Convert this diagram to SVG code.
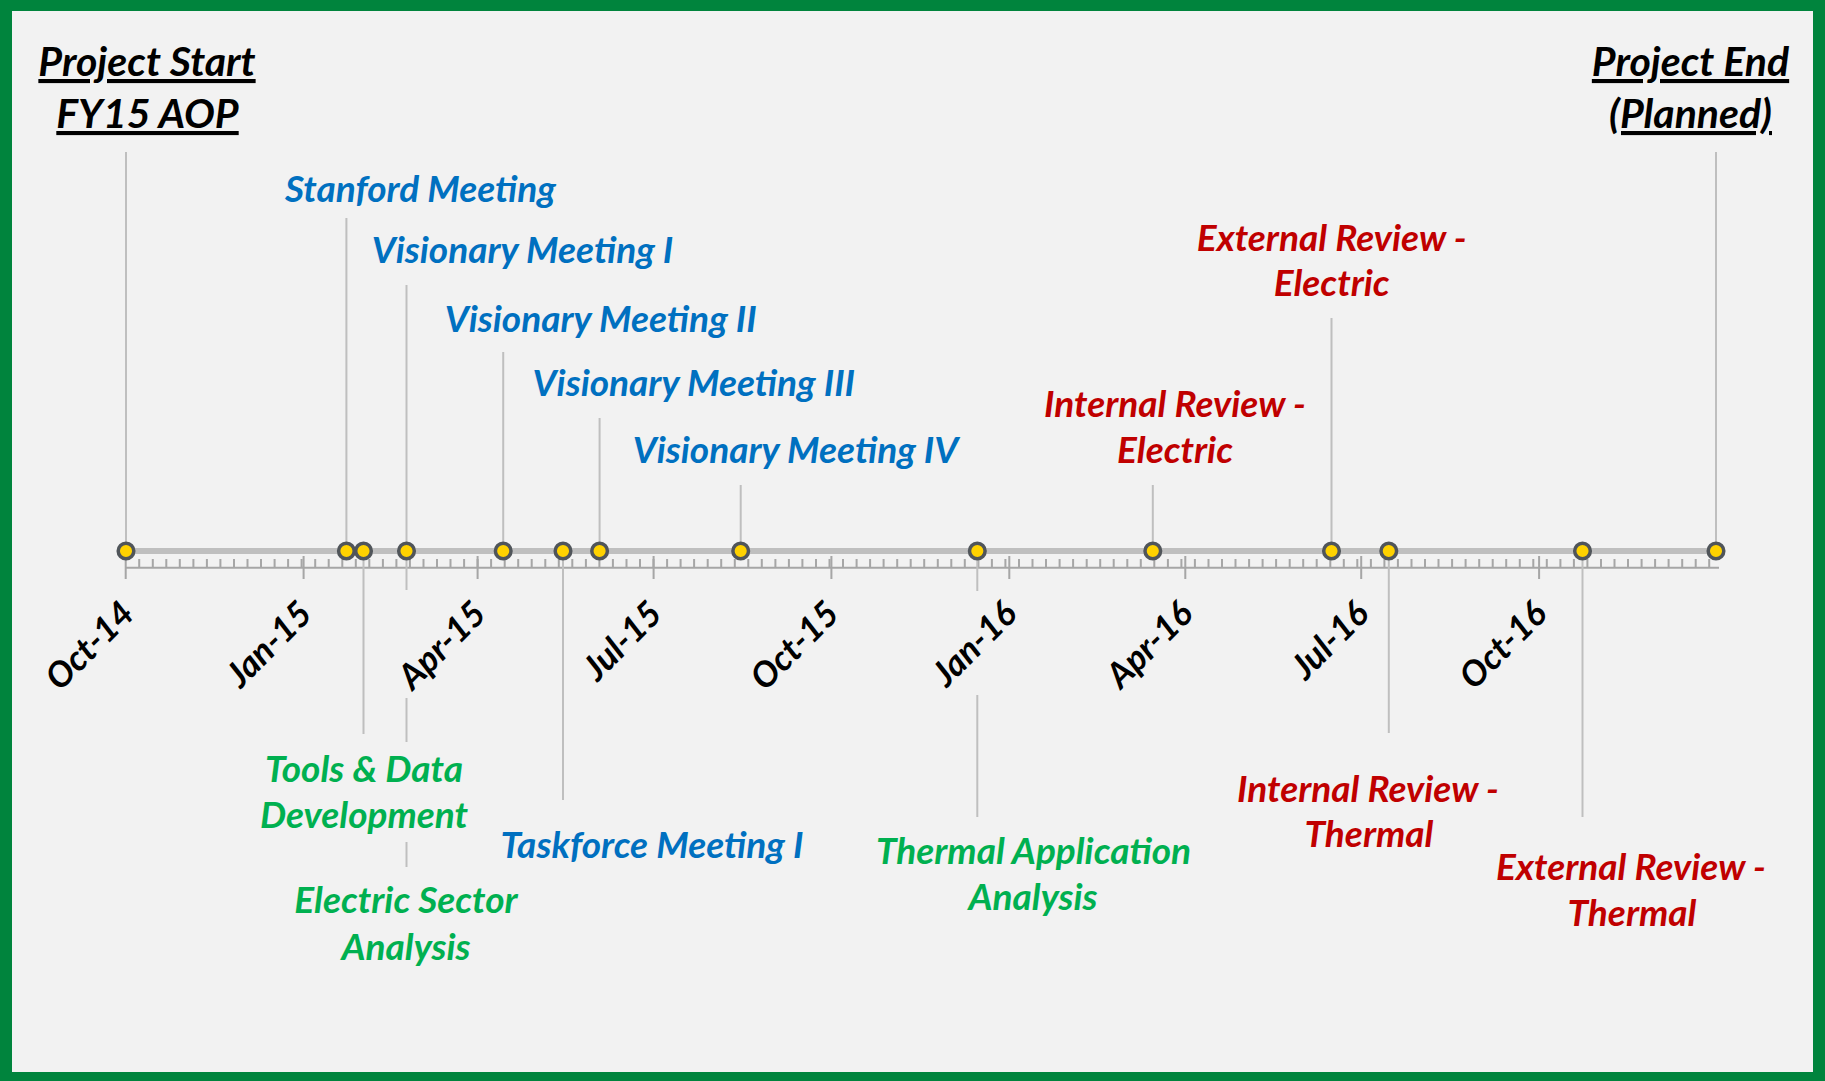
<svg xmlns="http://www.w3.org/2000/svg" width="1825" height="1081" viewBox="0 0 1825 1081">
<defs>
<style>
.t{font-family:Lato,"Liberation Sans",sans-serif;font-weight:bold;font-style:italic;text-anchor:middle}
.ev{font-size:37px}
.hd{font-size:41px;fill:#000;text-decoration:underline}
.blue{fill:#0070C0}
.green{fill:#00B050}
.red{fill:#C00000}
.dl{font-family:Lato,"Liberation Sans",sans-serif;font-weight:bold;font-style:italic;font-size:35px;fill:#000;text-anchor:end}
.ld{stroke:#BFBFBF;stroke-width:2;fill:none}
.pt{fill:#FFD200;stroke:#50555A;stroke-width:3.5}
</style>
</defs>
<rect x="0" y="0" width="1825" height="1081" fill="#00843D"/>
<rect x="12" y="11" width="1801" height="1061" fill="#F2F2F2"/>

<g id="axis">
<line x1="125.7" y1="551" x2="1716" y2="551" stroke="#BFBFBF" stroke-width="6"/>
<line x1="125.7" y1="567.7" x2="1719" y2="567.7" stroke="#A6A6A6" stroke-width="2"/>
<path stroke="#A6A6A6" stroke-width="2" fill="none" d="M139.2 559V567.7M152.8 559V567.7M166.3 559V567.7M179.8 559V567.7M193.4 559V567.7M206.9 559V567.7M220.4 559V567.7M234 559V567.7M247.5 559V567.7M261 559V567.7M274.6 559V567.7M288.1 559V567.7M301.6 559V567.7M315.2 559V567.7M328.7 559V567.7M342.3 559V567.7M355.8 559V567.7M369.3 559V567.7M382.9 559V567.7M396.4 559V567.7M409.9 559V567.7M423.5 559V567.7M437 559V567.7M450.5 559V567.7M464.1 559V567.7M477.6 559V567.7M491.1 559V567.7M504.7 559V567.7M518.2 559V567.7M531.7 559V567.7M545.3 559V567.7M558.8 559V567.7M572.3 559V567.7M585.9 559V567.7M599.4 559V567.7M612.9 559V567.7M626.5 559V567.7M640 559V567.7M653.5 559V567.7M667.1 559V567.7M680.6 559V567.7M694.1 559V567.7M707.7 559V567.7M721.2 559V567.7M734.8 559V567.7M748.3 559V567.7M761.8 559V567.7M775.4 559V567.7M788.9 559V567.7M802.4 559V567.7M816 559V567.7M829.5 559V567.7M843 559V567.7M856.6 559V567.7M870.1 559V567.7M883.6 559V567.7M897.2 559V567.7M910.7 559V567.7M924.2 559V567.7M937.8 559V567.7M951.3 559V567.7M964.8 559V567.7M978.4 559V567.7M991.9 559V567.7M1005.4 559V567.7M1019 559V567.7M1032.5 559V567.7M1046 559V567.7M1059.6 559V567.7M1073.1 559V567.7M1086.7 559V567.7M1100.2 559V567.7M1113.7 559V567.7M1127.3 559V567.7M1140.8 559V567.7M1154.3 559V567.7M1167.9 559V567.7M1181.4 559V567.7M1194.9 559V567.7M1208.5 559V567.7M1222 559V567.7M1235.5 559V567.7M1249.1 559V567.7M1262.6 559V567.7M1276.1 559V567.7M1289.7 559V567.7M1303.2 559V567.7M1316.7 559V567.7M1330.3 559V567.7M1343.8 559V567.7M1357.3 559V567.7M1370.9 559V567.7M1384.4 559V567.7M1397.9 559V567.7M1411.5 559V567.7M1425 559V567.7M1438.5 559V567.7M1452.1 559V567.7M1465.6 559V567.7M1479.2 559V567.7M1492.7 559V567.7M1506.2 559V567.7M1519.8 559V567.7M1533.3 559V567.7M1546.8 559V567.7M1560.4 559V567.7M1573.9 559V567.7M1587.4 559V567.7M1601 559V567.7M1614.5 559V567.7M1628 559V567.7M1641.6 559V567.7M1655.1 559V567.7M1668.6 559V567.7M1682.2 559V567.7M1695.7 559V567.7M1709.2 559V567.7"/>
<path stroke="#A6A6A6" stroke-width="2" fill="none" d="M125.7 556V579M303.6 556V579M477.6 556V579M653.6 556V579M831.4 556V579M1009.3 556V579M1185.3 556V579M1361.2 556V579M1539.1 556V579"/>
<text class="dl" transform="translate(136,616) rotate(-45)">Oct-14</text>
<text class="dl" transform="translate(314,616) rotate(-45)">Jan-15</text>
<text class="dl" transform="translate(488,616) rotate(-45)">Apr-15</text>
<text class="dl" transform="translate(664,616) rotate(-45)">Jul-15</text>
<text class="dl" transform="translate(841,616) rotate(-45)">Oct-15</text>
<text class="dl" transform="translate(1019,616) rotate(-45)">Jan-16</text>
<text class="dl" transform="translate(1195,616) rotate(-45)">Apr-16</text>
<text class="dl" transform="translate(1371,616) rotate(-45)">Jul-16</text>
<text class="dl" transform="translate(1549,616) rotate(-45)">Oct-16</text>
</g>

<g id="connectors" class="ld">
<line x1="126" y1="152" x2="126" y2="551"/>
<line x1="346.4" y1="218" x2="346.4" y2="551"/>
<line x1="406.5" y1="285" x2="406.5" y2="551"/>
<line x1="503.2" y1="352" x2="503.2" y2="551"/>
<line x1="599.6" y1="418" x2="599.6" y2="551"/>
<line x1="740.7" y1="485" x2="740.7" y2="551"/>
<line x1="1152.8" y1="485" x2="1152.8" y2="551"/>
<line x1="1331.5" y1="318" x2="1331.5" y2="551"/>
<line x1="1716" y1="152" x2="1716" y2="551"/>
<line x1="363.5" y1="551" x2="363.5" y2="734"/>
<path d="M406.5 551V590M406.5 698V742M406.5 842V867"/>
<line x1="563" y1="551" x2="563" y2="800"/>
<path d="M977.3 551V591M977.3 695V817"/>
<line x1="1388.8" y1="551" x2="1388.8" y2="733"/>
<line x1="1582.5" y1="551" x2="1582.5" y2="817"/>
</g>

<g id="project-start">
<circle class="pt" cx="126" cy="551" r="7.8"/>
<text class="t hd" x="147" y="76">Project Start</text>
<text class="t hd" x="147.5" y="128">FY15 AOP</text>
</g>
<g id="stanford-meeting">
<circle class="pt" cx="346.4" cy="551" r="7.8"/>
<text class="t ev blue" x="420.5" y="202">Stanford Meeting</text>
</g>
<g id="tools-data-development">
<circle class="pt" cx="363.5" cy="551" r="7.8"/>
<text class="t ev green" x="364" y="782">Tools &amp; Data</text>
<text class="t ev green" x="364" y="828">Development</text>
</g>
<g id="visionary-meeting-1">
<circle class="pt" cx="406.5" cy="551" r="7.8"/>
<text class="t ev blue" x="522.5" y="263">Visionary Meeting I</text>
</g>
<g id="electric-sector-analysis">
<text class="t ev green" x="406" y="913">Electric Sector</text>
<text class="t ev green" x="406" y="960">Analysis</text>
</g>
<g id="visionary-meeting-2">
<circle class="pt" cx="503.2" cy="551" r="7.8"/>
<text class="t ev blue" x="600.7" y="332">Visionary Meeting II</text>
</g>
<g id="taskforce-meeting-1">
<circle class="pt" cx="563" cy="551" r="7.8"/>
<text class="t ev blue" x="652" y="858">Taskforce Meeting I</text>
</g>
<g id="visionary-meeting-3">
<circle class="pt" cx="599.6" cy="551" r="7.8"/>
<text class="t ev blue" x="693.8" y="396">Visionary Meeting III</text>
</g>
<g id="visionary-meeting-4">
<circle class="pt" cx="740.7" cy="551" r="7.8"/>
<text class="t ev blue" x="795.5" y="463">Visionary Meeting IV</text>
</g>
<g id="thermal-application-analysis">
<circle class="pt" cx="977.3" cy="551" r="7.8"/>
<text class="t ev green" x="1033.5" y="864">Thermal Application</text>
<text class="t ev green" x="1033" y="910">Analysis</text>
</g>
<g id="internal-review-electric">
<circle class="pt" cx="1152.8" cy="551" r="7.8"/>
<text class="t ev red" x="1175" y="417">Internal Review -</text>
<text class="t ev red" x="1175" y="463">Electric</text>
</g>
<g id="external-review-electric">
<circle class="pt" cx="1331.5" cy="551" r="7.8"/>
<text class="t ev red" x="1331.7" y="251">External Review -</text>
<text class="t ev red" x="1331.7" y="296">Electric</text>
</g>
<g id="internal-review-thermal">
<circle class="pt" cx="1388.8" cy="551" r="7.8"/>
<text class="t ev red" x="1368" y="802">Internal Review -</text>
<text class="t ev red" x="1369" y="847">Thermal</text>
</g>
<g id="external-review-thermal">
<circle class="pt" cx="1582.5" cy="551" r="7.8"/>
<text class="t ev red" x="1631" y="880">External Review -</text>
<text class="t ev red" x="1632" y="926">Thermal</text>
</g>
<g id="project-end">
<circle class="pt" cx="1716" cy="551" r="7.8"/>
<text class="t hd" x="1690.5" y="76">Project End</text>
<text class="t hd" x="1690.5" y="128">(Planned)</text>
</g>
</svg>
